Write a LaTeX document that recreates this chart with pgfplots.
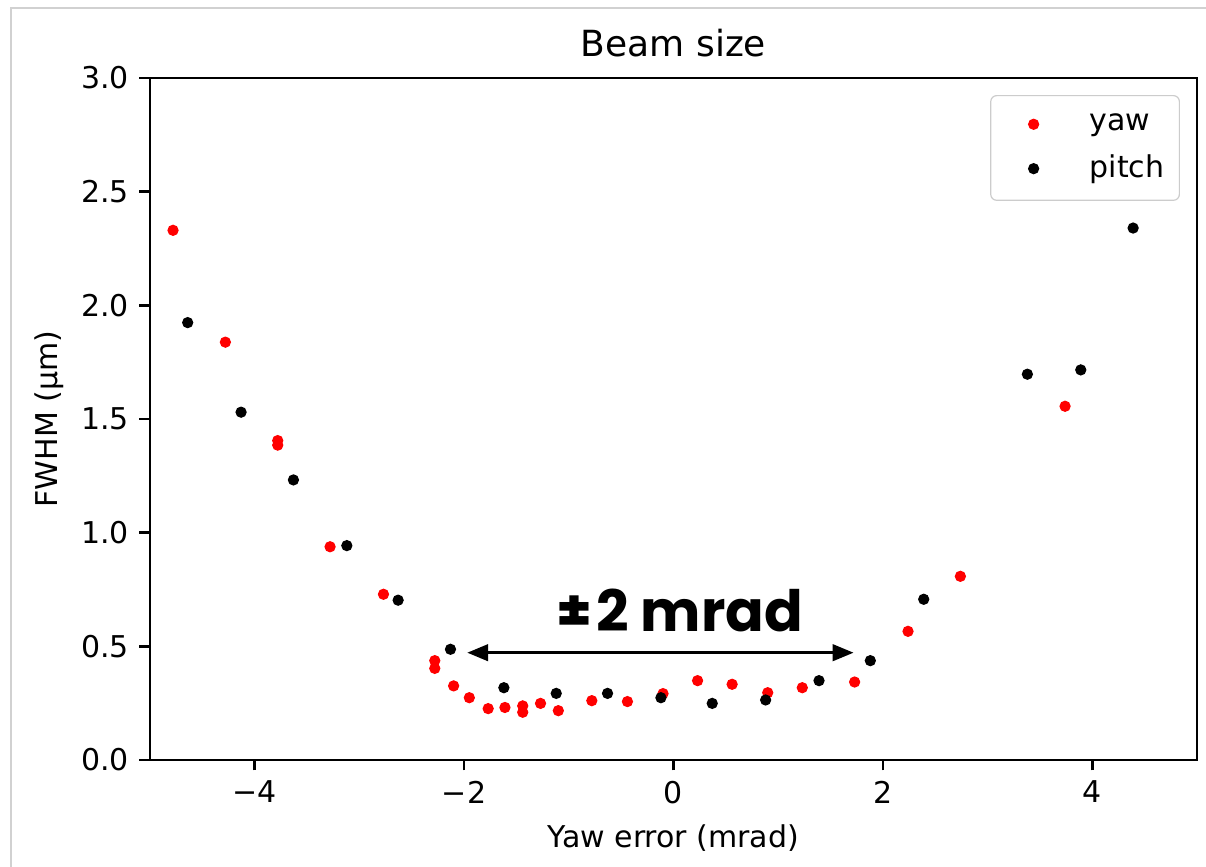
\documentclass[border=0pt]{standalone}
\usepackage{pgfplots}
\pgfplotsset{compat=1.18}
\usepackage{fontspec}
\setmainfont{DejaVu Sans}
\newfontfamily\poppins{Poppins}
\usetikzlibrary{arrows.meta}
\begin{document}
\begin{tikzpicture}
\path[use as bounding box] (-50pt,-35.667pt) rectangle (352pt,253.333pt);
\draw[line width=0.6pt, black!18] (-46.33pt,-35.667pt) -- (-46.33pt,250.667pt) -- (352pt,250.667pt);
\begin{axis}[
  at={(0pt,0pt)}, anchor=south west,
  scale only axis, width=349pt, height=227.333pt,
  xmin=-5, xmax=5, ymin=0, ymax=3,
  xtick={-4,-2,0,2,4}, xticklabels={−4,−2,0,2,4},
  ytick={0,0.5,1,1.5,2,2.5,3}, yticklabels={0.0,0.5,1.0,1.5,2.0,2.5,3.0},
  tick align=outside, major tick length=3.5pt,
  xtick pos=bottom, ytick pos=left,
  tick style={black, line width=0.8pt},
  axis line style={line width=0.8pt},
  ticklabel style={font=\fontsize{10}{12}\selectfont},
  title={Beam size},
  title style={font=\fontsize{12}{14}\selectfont, yshift=-2.7pt},
  xlabel={Yaw error (mrad)},
  ylabel={FWHM (μm)},
  label style={font=\fontsize{10}{12}\selectfont},
  ylabel style={yshift=-1pt},
  legend style={at={(1,1)}, anchor=north east, xshift=-5.67pt, yshift=-5.67pt,
    draw=black!20, rounded corners=2pt, font=\fontsize{10}{12}\selectfont,
    row sep=2.7pt, inner xsep=3pt, inner ysep=4pt},
  legend cell align=left,
  legend image code/.code={\path[draw=none, fill=none] (0pt,-2pt) rectangle (28pt,2pt); \draw[#1, mark repeat=2, mark phase=2] plot coordinates {(0pt,0pt)(11.3pt,0pt)(22.6pt,0pt)};},
]
\addplot[only marks, mark=*, mark size=1.67pt, color=red, mark options={draw=red, fill=red}] coordinates {
(-4.78,2.33) (-4.28,1.838) (-3.78,1.405) (-3.78,1.385) (-3.28,0.938) (-2.77,0.729)
(-2.28,0.437) (-2.28,0.403) (-2.10,0.326) (-1.95,0.274) (-1.77,0.226) (-1.61,0.231)
(-1.44,0.238) (-1.44,0.210) (-1.27,0.249) (-1.10,0.217) (-0.78,0.261) (-0.44,0.257)
(-0.10,0.292) (0.23,0.349) (0.56,0.333) (0.90,0.296) (1.23,0.318) (1.73,0.343)
(2.24,0.566) (2.74,0.808) (3.74,1.556)
};
\addlegendentry{yaw}
\addplot[only marks, mark=*, mark size=1.67pt, color=black, mark options={draw=black, fill=black}] coordinates {
(-4.64,1.924) (-4.13,1.53) (-3.63,1.232) (-3.12,0.943) (-2.63,0.703) (-2.13,0.487)
(-1.62,0.318) (-1.12,0.293) (-0.63,0.293) (-0.12,0.274) (0.37,0.249) (0.88,0.264)
(1.39,0.349) (1.88,0.437) (2.39,0.707) (3.38,1.697) (3.89,1.716) (4.39,2.34)
};
\addlegendentry{pitch}
\draw[{Triangle[length=7pt,width=5.5pt]}-{Triangle[length=7pt,width=5.5pt]}, line width=1pt] (axis cs:-1.97,0.472) -- (axis cs:1.72,0.472);
\node[anchor=base, inner sep=0pt] at (axis cs:0.06,0.564) {\poppins\bfseries\fontsize{19}{19}\selectfont ±\kern1.2pt 2 mrad};
\end{axis}
\end{tikzpicture}
\end{document}
